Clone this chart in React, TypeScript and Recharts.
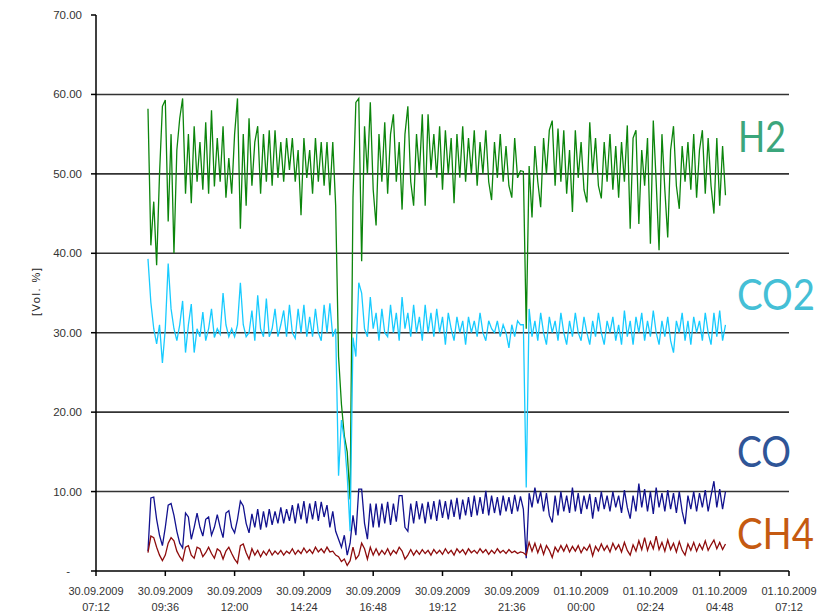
import React from "react";
import { LineChart, Line, XAxis, YAxis, ReferenceLine } from "recharts";

// sampling: first reading 09:00 on 30.09.2009, then one every 6 minutes
const START_MIN = 108; // minutes after 30.09.2009 07:12
const STEP_MIN = 6;

const h2 = [
  58.2, 41, 46.5, 38.5, 50, 58.5, 59.3, 44, 55, 40,
  53, 57, 59.5, 47.5, 55, 46.3, 56, 49, 54, 48,
  56.5, 47.5, 58, 48.4, 54.5, 49, 56, 47, 52, 47.5,
  55, 59.5, 43.1, 55, 46, 57, 48.5, 54, 56, 47.5,
  55, 49, 55.5, 48.5, 55.5, 49.5, 54, 49, 54.5, 50.5,
  54.5, 49, 53, 44.8, 54.5, 49.5, 53, 47.5, 54.5, 49,
  54, 48.5, 54, 47.3, 54, 46, 27, 21, 17, 15,
  9, 47, 59, 59.5, 39, 56, 50, 59, 48, 43.5,
  55, 49, 56.5, 47.5, 55, 57.5, 49, 54, 45.5, 55,
  58.5, 49, 46, 55, 50, 57.5, 46, 57.5, 50.5, 55,
  49.5, 56, 48, 55.5, 50, 54.5, 46.3, 55, 49.5, 56,
  49, 54.5, 50, 55.5, 48.5, 54, 50, 55.5, 49, 46.7,
  54, 49.5, 55, 49, 53.5, 48.5, 47, 54.5, 49.5, 50.4,
  50.3, 30.5, 51, 44.5, 53.5, 49, 45.8, 54.5, 50, 55.5,
  56.7, 48.5, 55.7, 49, 55.5, 47.5, 53, 45.2, 55.5, 49.5,
  54, 48, 46.4, 56.5, 50, 54.5, 48.5, 46.9, 54, 49,
  55, 48, 53.5, 47, 54, 49, 56.1, 43.1, 54.5, 55.5,
  43.7, 53, 48.5, 54.5, 41.2, 56.7, 49, 40.4, 55, 48,
  42, 53, 56, 48.5, 45.6, 53.5, 49, 54, 48, 55,
  47, 53, 55.5, 47.5, 54.5, 48.5, 45, 54.5, 46, 53.5,
  47.3,
];

const co2 = [
  39.3, 33.8, 30.5, 28.6, 31, 26.2, 30.5, 38.7, 33, 30.5,
  29, 31, 34, 27.5, 31, 33.6, 27.5, 30.5, 29.5, 32.6,
  29, 30.5, 33, 29.4, 30.5, 29.8, 35, 31, 29.5, 30.5,
  29.5, 31, 36.3, 31, 29.5, 30, 32.8, 29, 34.7, 30.5,
  29.5, 34.3, 29.5, 30.5, 33, 29.5, 31, 32.8, 29.5, 33.5,
  30, 29.3, 33, 30, 33.5, 29.5, 32, 29.5, 33, 30,
  29, 33.5, 30, 33.7, 29.5, 30.5, 12, 19, 16.5, 12,
  5, 29.4, 27, 36.3, 35, 30.5, 29.5, 34.5, 30.5, 32.5,
  29, 33, 30, 29.5, 33.5, 30, 32.5, 29, 34.5, 30.5,
  32.5, 29.5, 33.5, 30, 32, 29, 33.5, 30, 32.5, 29.5,
  33, 30, 32, 28.5, 32.5, 30.5, 29, 32, 30, 31.5,
  28.5, 32, 30, 31.5, 29.5, 32.5, 30, 29, 31.5, 30.5,
  30, 31.5, 29.5, 31, 30, 28.1, 31, 29.5, 31.5, 31,
  31, 10.5, 33, 29.5, 31.5, 29, 32.5, 30, 28.5, 32,
  30, 31.5, 29, 32.5, 30, 28.5, 31.5, 29.5, 32.5, 30,
  29, 32, 30, 28.5, 31.5, 29.5, 32.5, 30, 28.5, 31.5,
  30, 32, 29, 31, 28.5, 32.8, 29.5, 31.5, 28.5, 32,
  30, 32.5, 29, 31.5, 29.5, 32.8, 30, 28.5, 31.5, 29.5,
  32, 29, 27.5, 31.5, 30, 32.5, 29, 31.5, 28.5, 32,
  30, 31.5, 29, 32.5, 30, 28.5, 32.5, 29.5, 32.8, 29,
  31,
];

const co = [
  2.5, 9.2, 9.3, 6.5, 4.5, 3.2, 5.5, 8.3, 8.5, 7,
  5, 3.5, 2.9, 7.3, 6.8, 4, 5.5, 7.3, 5.5, 4.4,
  6.5, 6.8, 4.5, 5.5, 7.1, 5.5, 4.2, 7.3, 7.6, 5.5,
  4.8, 6.5, 8.8, 8.2, 6, 4.8, 7.2, 5.5, 7.8, 5.2,
  7.5, 5.5, 7.8, 5.8, 7.5, 6, 8, 6, 7.8, 6.3,
  8.3, 6, 8.5, 6.5, 8.8, 6, 8.5, 6.5, 8.8, 6.3,
  8.7, 6.8, 8.3, 5.5, 7.5, 5, 4, 3, 4.5, 2,
  3.5, 7, 4.5, 10.3, 10.3, 6, 4, 8.5, 5.5, 8.5,
  5.5, 8.5, 6, 8.7, 5.8, 8.5, 6.2, 9.5, 9.5, 5.5,
  5, 8.5, 6, 8.8, 6.5, 8.5, 6, 8.7, 6.5, 8.8,
  6.3, 9, 6.7, 8.8, 6.5, 9, 6.8, 9.2, 6.5, 9,
  7, 9.3, 6.8, 9.5, 7, 9.3, 7.2, 10.1, 7, 9.5,
  7.3, 9.3, 7, 9.5, 7.5, 9.3, 7.2, 9.6, 7.5, 9.4,
  7.8, 1.6, 9.8, 8, 10.5, 8.5, 10, 7.5, 9.8, 7,
  6.1, 9.5, 7, 10, 7.5, 9.5, 7.3, 10.5, 7.5, 9.8,
  7.2, 9.5, 7.8, 9.7, 6.6, 9.3, 7.5, 10, 7.8, 9.5,
  7.5, 10, 8, 9.5, 7.3, 10.2, 8, 6.6, 9.5, 7.5,
  11, 8, 10.3, 7.5, 10, 7.2, 10.5, 8, 9.8, 7.5,
  10.2, 7.8, 9.8, 7.3, 10, 7.5, 5.9, 9.5, 7.8, 10,
  7.5, 9.8, 8, 10.2, 7.5, 9.5, 11.3, 8, 10.3, 7.8,
  10,
];

const ch4 = [
  2.3, 4.4, 4.2, 3, 2, 1.3, 2, 3.5, 4.2, 3.8,
  2.5, 1.8, 1.3, 3, 3.2, 2, 1.6, 3, 2.8, 1.8,
  2.3, 3, 2.2, 1.6, 2.8, 2.5, 1.5, 2.5, 3, 2.2,
  1.5, 1, 3.2, 3.4, 2.3, 1.5, 2.8, 2, 2.6, 1.8,
  2.5, 2, 2.7, 2, 2.5, 2.1, 2.6, 2, 2.5, 2.2,
  2.8, 2.1, 2.6, 2.2, 2.9, 2.3, 2.7, 2.2, 3, 2.4,
  2.8, 2.3, 3, 2.4, 2.5, 2, 1.8, 1.2, 1.5, 0.7,
  1.3, 3, 1.5, 2, 3.5, 2.8, 1.5, 3, 2, 2.8,
  2, 2.6, 2.1, 2.8, 2, 2.6, 2.2, 3, 2.5, 1.5,
  2, 2.7, 2, 2.6, 2.1, 2.7, 2.2, 2.6, 2, 2.7,
  2.2, 2.6, 2.1, 2.8, 2.2, 2.6, 2, 2.8, 2.3, 2.7,
  2.1, 2.8, 2.3, 2.6, 2.2, 2.8, 2.3, 2.7, 2.1, 2.6,
  2.2, 2.8, 2.3, 2.6, 2.2, 2.7, 2.3, 2.5, 2.2, 2.4,
  2.3, 2, 3.6, 2.5, 3.5, 2.3, 3.3, 2.1, 3.2, 2.6,
  1.7, 3, 2.4, 3.2, 2.5, 3.3, 2.4, 3.1, 2.5, 3.2,
  2.3, 3, 2.6, 3.3, 1.9, 3.1, 2.5, 3.4, 2.6, 3.2,
  2.4, 3.5, 2.7, 3.3, 2.4, 3.6, 2.6, 2, 3.3, 2.5,
  3.8, 2.7, 4.2, 2.6, 3.7, 2.8, 4.4, 2.7, 3.6, 2.5,
  3.9, 2.7, 3.5, 2.4, 3.7, 2.6, 2, 3.4, 2.6, 3.6,
  2.5, 3.4, 2.7, 3.8, 2.6, 3.3, 3.9, 2.8, 3.6, 2.7,
  3.4,
];

const xTicks = [0, 144, 288, 432, 576, 720, 864, 1008, 1152, 1296, 1440];
const xTickDates = [
  "30.09.2009", "30.09.2009", "30.09.2009", "30.09.2009", "30.09.2009", "30.09.2009",
  "30.09.2009", "01.10.2009", "01.10.2009", "01.10.2009", "01.10.2009",
];
const xTickTimes = ["07:12", "09:36", "12:00", "14:24", "16:48", "19:12", "21:36", "00:00", "02:24", "04:48", "07:12"];
const yTicks = [0, 10, 20, 30, 40, 50, 60, 70];
const gridValues = [10, 20, 30, 40, 50, 60];

const data = h2.map((v, i) => ({
  t: START_MIN + i * STEP_MIN,
  h2: v,
  co2: co2[i],
  co: co[i],
  ch4: ch4[i],
}));

const tickFont = "'Liberation Sans', Arial, sans-serif";

function XTick(props: any) {
  const { x, y, payload } = props;
  const i = xTicks.indexOf(payload.value);
  return (
    <text x={x} y={y} textAnchor="middle" fontSize={11} fill="#333" fontFamily={tickFont}>
      <tspan x={x} dy={16.5}>{xTickDates[i]}</tspan>
      <tspan x={x} dy={16}>{xTickTimes[i]}</tspan>
    </text>
  );
}

function YTick(props: any) {
  const { x, y, payload } = props;
  const zero = payload.value === 0;
  return (
    <text
      x={zero ? x - 19 : x - 7}
      y={y}
      dy="0.35em"
      textAnchor="end"
      fontSize={11.5}
      fill="#333"
      fontFamily={tickFont}
    >
      {zero ? "-" : payload.value.toFixed(2)}
    </text>
  );
}

export default function App() {
  return (
    <div style={{ position: "absolute", left: 0, top: 0, width: 826, height: 612, background: "#fff" }}>
      <LineChart width={826} height={612} data={data} margin={{ top: 15, right: 37, bottom: 0, left: 0 }}>
        <XAxis
          dataKey="t"
          type="number"
          domain={[0, 1440]}
          ticks={xTicks}
          interval={0}
          height={41}
          stroke="#000"
          strokeWidth={1.5}
          tickSize={5}
          tick={<XTick />}
        />
        <YAxis
          type="number"
          domain={[0, 70]}
          ticks={yTicks}
          interval={0}
          width={96}
          stroke="#000"
          strokeWidth={1.5}
          tickSize={5}
          tick={<YTick />}
        />
        {gridValues.map((g) => (
          <ReferenceLine key={g} y={g} stroke="#333" strokeWidth={1.6} />
        ))}
        <Line type="linear" dataKey="h2" stroke="#0c850c" strokeWidth={1.3} dot={false} isAnimationActive={false} />
        <Line type="linear" dataKey="co2" stroke="#18cbff" strokeWidth={1.3} dot={false} isAnimationActive={false} />
        <Line type="linear" dataKey="co" stroke="#12128f" strokeWidth={1.3} dot={false} isAnimationActive={false} />
        <Line type="linear" dataKey="ch4" stroke="#8e0c0c" strokeWidth={1.3} dot={false} isAnimationActive={false} />
      </LineChart>
      <svg
        width={826}
        height={612}
        style={{ position: "absolute", left: 0, top: 0, pointerEvents: "none" }}
      >
        <text
          x={36}
          y={292}
          transform="rotate(-90 36 292)"
          textAnchor="middle"
          dominantBaseline="central"
          fontSize={11}
          fill="#222"
          fontFamily={tickFont}
          textLength={48}
          lengthAdjust="spacing"
        >
          [Vol. %]
        </text>
        <text x={738} y={151.5} fontSize={42} fill="#3ba67c" fontFamily="Lato, sans-serif" textLength={48} lengthAdjust="spacingAndGlyphs">H2</text>
        <text x={737} y={310} fontSize={42} fill="#45bfd6" fontFamily="Lato, sans-serif" textLength={78} lengthAdjust="spacingAndGlyphs">CO2</text>
        <text x={737} y={466.5} fontSize={42} fill="#2f5597" fontFamily="Lato, sans-serif" textLength={54} lengthAdjust="spacingAndGlyphs">CO</text>
        <text x={737} y={548.5} fontSize={42} fill="#c55a11" fontFamily="Lato, sans-serif" textLength={77} lengthAdjust="spacingAndGlyphs">CH4</text>
      </svg>
    </div>
  );
}
